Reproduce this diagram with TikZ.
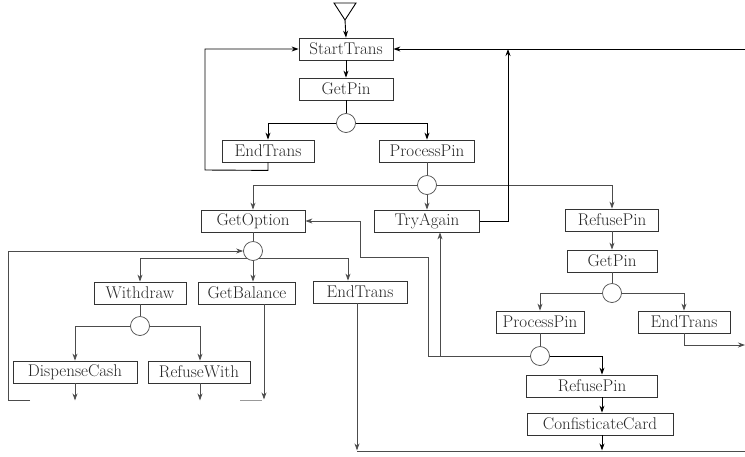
\documentclass[tikz,border=0pt]{standalone}
\usetikzlibrary{arrows.meta}
\begin{document}
\begin{tikzpicture}[x=1pt,y=-1pt,
  box/.style={draw=black!80, line width=0.8pt, minimum height=22pt, inner sep=0pt,
    font=\fontsize{17}{20}\selectfont, text=black!85},
  jn/.style={circle, draw=black!70, line width=0.7pt, minimum size=19pt, inner sep=0pt, fill=white},
  ln/.style={draw=black!70, line width=0.8pt},
  dk/.style={draw=black, line width=0.9pt},
  arr/.style={-{Stealth[length=7pt,width=5pt]}}]
\useasboundingbox (0,0) rectangle (745,456);

% top
\coordinate (tri) at (345,20);
\draw[dk] (334,3) -- (356,3) -- (tri) -- cycle;
\node[box, minimum width=94pt] (st) at (346,49) {StartTrans};
\node[box, minimum width=94pt] (gp1) at (346,89) {GetPin};
\node[jn] (c1) at (346,123) {};
\node[box, minimum width=92pt] (et1) at (268,151) {EndTrans};
\node[box, minimum width=95pt] (pp1) at (427,151) {ProcessPin};
\node[jn] (c2) at (427,185) {};
\node[box, minimum width=104pt] (go) at (253,221) {GetOption};
\node[box, minimum width=105pt] (ta) at (427,221) {TryAgain};
\node[box, minimum width=93pt] (rp1) at (612,220) {RefusePin};

\draw[dk,arr] (tri) -- (st.north);
\draw[dk,arr] (st.south) -- (gp1.north);
\draw[dk] (gp1.south) -- (c1.north);
\draw[dk,arr] (c1.west) -| (et1.north);
\draw[dk,arr] (c1.east) -| (pp1.north);
\draw[dk,arr] (et1.south) -- ++(0,8) -- (205,170) |- (st.west);
\draw[ln] (pp1.south) -- (c2.north);
\draw[ln,arr] (c2.west) -| (go.north);
\draw[ln,arr] (c2.south) -- (ta.north);
\draw[ln,arr] (c2.east) -| (rp1.north);
\coordinate (rin) at (745,49);
\coordinate (tj) at (508,49);
\draw[dk,arr] (rin) -- (st.east);
\draw[dk,arr] (ta.east) -| (tj);

% right column
\node[box, minimum width=90pt] (gp2) at (612,261) {GetPin};
\node[jn] (c3) at (612,293) {};
\node[box, minimum width=88pt] (pp2) at (540,322) {ProcessPin};
\node[box, minimum width=92pt] (et3) at (684,322) {EndTrans};
\node[jn] (c4) at (540,356) {};
\node[box, minimum width=131pt] (rp2) at (592,386) {RefusePin};
\node[box, minimum width=146pt] (cc) at (600,424) {ConfisticateCard};
\coordinate (eout) at (745,345);

\draw[ln,arr] (rp1.south) -- (gp2.north);
\draw[ln] (gp2.south) -- (c3.north);
\draw[ln,arr] (c3.west) -| (pp2.north);
\draw[ln,arr] (c3.east) -| (et3.north);
\draw[ln,arr] (et3.south) |- (eout);
\draw[ln] (pp2.south) -- (c4.north);
\draw[dk,arr] (c4.east) -| ([xshift=10pt]rp2.north);
\draw[dk,arr] ([xshift=10pt]rp2.south) -- ([xshift=2pt]cc.north);
\draw[dk,arr] ([xshift=2pt]cc.south) -- ++(0,15);
\draw[ln,arr] (c4.west) -| ([xshift=13pt]ta.south);
\draw[ln,arr] (c4.west) -- (428,356) -- (428,257) -- (360,257) |- (go.east);

% left part
\node[jn] (c5) at (253,251) {};
\node[box, minimum width=92pt] (wd) at (140,293) {Withdraw};
\node[box, minimum width=97pt] (gb) at (247,293) {GetBalance};
\node[box, minimum width=94pt] (et2) at (360,292) {EndTrans};
\node[jn] (c6) at (140,326) {};
\node[box, minimum width=124pt] (dc) at (75,372) {DispenseCash};
\node[box, minimum width=102pt] (rw) at (199,372) {RefuseWith};
\coordinate (lin) at (30,400);

\draw[ln] (go.south) -- (c5.north);
\draw[ln,arr] (lin) -- (8,400) |- (c5.west);
\draw[ln,arr] (c5.231) -| (wd.north);
\draw[ln,arr] (c5.south) -- (c5.south |- gb.north);
\draw[ln,arr] (c5.309) -| ([xshift=-12pt]et2.north);
\draw[ln] (wd.south) -- (c6.north);
\draw[ln,arr] (c6.west) -| (dc.north);
\draw[ln,arr] (c6.east) -| ([xshift=1pt]rw.north);
\draw[ln,arr] (dc.south) -- ++(0,17);
\draw[ln,arr] ([xshift=1pt]rw.south) -- ++(0,17);
\draw[ln,arr] ([xshift=17pt]gb.south) -- ++(0,95);
\draw[draw=black!40, line width=0.6pt] (240,400) -- (262,400);
\draw[ln,arr] ([xshift=-3pt]et2.south) -- ++(0,147);
\coordinate (bout) at (745,451);
\draw[ln] ([xshift=-3pt]et2.south |- bout) -- (bout);
\end{tikzpicture}
\end{document}
